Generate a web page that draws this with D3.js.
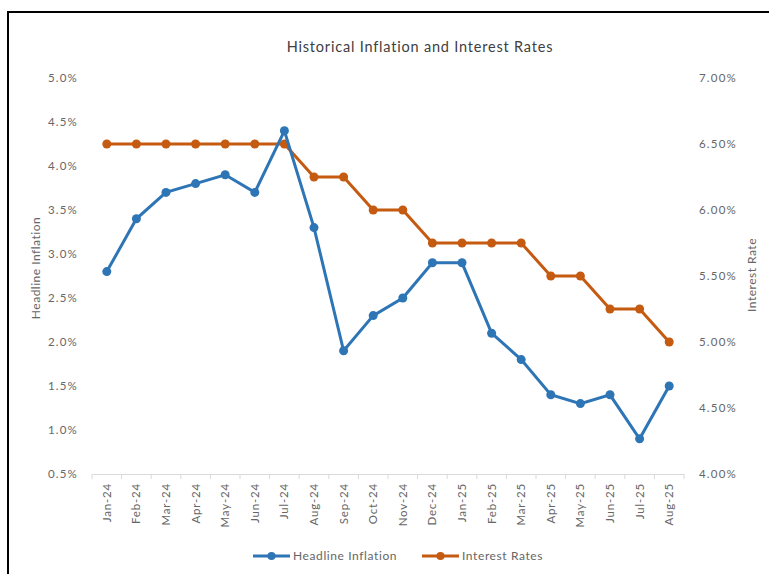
<!DOCTYPE html>
<html>
<head>
<meta charset="utf-8">
<script src="https://cdn.jsdelivr.net/npm/d3@7"></script>
<style>
  body { margin: 0; background: #fff; }
  svg text { font-family: Lato, "Open Sans", sans-serif; }
</style>
</head>
<body>
<svg id="chart"></svg>
<script>
// chart data
const months = ["Jan-24", "Feb-24", "Mar-24", "Apr-24", "May-24", "Jun-24", "Jul-24", "Aug-24", "Sep-24", "Oct-24",
    "Nov-24", "Dec-24", "Jan-25", "Feb-25", "Mar-25", "Apr-25", "May-25", "Jun-25", "Jul-25", "Aug-25"];
const inflation = [2.8, 3.4, 3.7, 3.8, 3.9, 3.7, 4.4, 3.3, 1.9, 2.3, 2.5, 2.9, 2.9, 2.1, 1.8, 1.4, 1.3, 1.4, 0.9, 1.5];
const interestRates = [6.5, 6.5, 6.5, 6.5, 6.5, 6.5, 6.5, 6.25, 6.25, 6.0, 6.0, 5.75, 5.75, 5.75, 5.75, 5.5, 5.5, 5.25, 5.25, 5.0];
const leftTicks = [0.5, 1.0, 1.5, 2.0, 2.5, 3.0, 3.5, 4.0, 4.5, 5.0];
const rightTicks = [4.0, 4.5, 5.0, 5.5, 6.0, 6.5, 7.0];

const width = 769, height = 574;
const margin = { top: 78, right: 85, bottom: 100, left: 92 };
const innerW = width - margin.left - margin.right;
const innerH = height - margin.top - margin.bottom;

const blue = "#2e75b6", orange = "#c55a11", textColor = "#666666";

const svg = d3.select("#chart")
    .attr("width", width)
    .attr("height", height);

// outer frame (only left and top edges show in the picture)
svg.append("path")
    .attr("d", `M8,${height} L8,12 L${width},12`)
    .attr("fill", "none")
    .attr("stroke", "#000")
    .attr("stroke-width", 2);

svg.append("text")
    .attr("x", 420)
    .attr("y", 52)
    .attr("text-anchor", "middle")
    .style("font-size", "14.5px")
    .style("letter-spacing", "0.8px")
    .attr("fill", "#404040")
    .text("Historical Inflation and Interest Rates");

const chart = svg.append("g")
    .attr("transform", `translate(${margin.left},${margin.top})`);

const xScale = d3.scaleBand().domain(months).range([0, innerW]);
const yLeft = d3.scaleLinear().domain([0.5, 5.0]).range([innerH, 0]);
const yRight = d3.scaleLinear().domain([4.0, 7.0]).range([innerH, 0]);

// x axis: line with ticks at the band edges
const xAxisG = chart.append("g")
    .attr("transform", `translate(0,${innerH})`)
    .call(d3.axisBottom(xScale).tickSize(0).tickPadding(8));
xAxisG.select(".domain").attr("stroke", "#d9d9d9");
xAxisG.selectAll("text")
    .attr("fill", textColor)
    .style("font-size", "11.5px")
    .style("letter-spacing", "0.8px")
    .attr("transform", "rotate(-90)")
    .attr("text-anchor", "end")
    .attr("x", -9)
    .attr("y", 0)
    .attr("dy", "0.35em");
xAxisG.selectAll(".band-tick")
    .data(d3.range(months.length + 1))
    .join("line")
    .attr("class", "band-tick")
    .attr("x1", i => i * xScale.step())
    .attr("x2", i => i * xScale.step())
    .attr("y1", 0)
    .attr("y2", 5)
    .attr("stroke", "#d9d9d9");

// left axis
const yLeftG = chart.append("g")
    .call(d3.axisLeft(yLeft).tickValues(leftTicks).tickSize(0).tickPadding(14)
        .tickFormat(d => d3.format(".1f")(d) + "%"));
yLeftG.select(".domain").remove();
yLeftG.selectAll("text").attr("fill", textColor).style("font-size", "11.5px").style("letter-spacing", "1.2px");

// right axis
const yRightG = chart.append("g")
    .attr("transform", `translate(${innerW},0)`)
    .call(d3.axisRight(yRight).tickValues(rightTicks).tickSize(0).tickPadding(15)
        .tickFormat(d => d3.format(".2f")(d) + "%"));
yRightG.select(".domain").remove();
yRightG.selectAll("text").attr("fill", textColor).style("font-size", "11.5px").style("letter-spacing", "1.2px");

// axis titles
svg.append("text")
    .attr("transform", `translate(40,268) rotate(-90)`)
    .attr("text-anchor", "middle")
    .attr("fill", textColor)
    .style("font-size", "12px")
    .style("letter-spacing", "0.5px")
    .text("Headline Inflation");

svg.append("text")
    .attr("transform", `translate(756,275) rotate(-90)`)
    .attr("text-anchor", "middle")
    .attr("fill", textColor)
    .style("font-size", "12px")
    .style("letter-spacing", "0.5px")
    .text("Interest  Rate");

const xPos = (d, i) => xScale(months[i]) + xScale.bandwidth() / 2;

// interest rates series
chart.append("path")
    .datum(interestRates)
    .attr("fill", "none")
    .attr("stroke", orange)
    .attr("stroke-width", 3)
    .attr("d", d3.line().x(xPos).y(d => yRight(d)));
chart.selectAll(".dot-rate")
    .data(interestRates)
    .join("circle")
    .attr("class", "dot-rate")
    .attr("cx", xPos)
    .attr("cy", d => yRight(d))
    .attr("r", 4.5)
    .attr("fill", orange);

// inflation series
chart.append("path")
    .datum(inflation)
    .attr("fill", "none")
    .attr("stroke", blue)
    .attr("stroke-width", 3)
    .attr("d", d3.line().x(xPos).y(d => yLeft(d)));
chart.selectAll(".dot-infl")
    .data(inflation)
    .join("circle")
    .attr("class", "dot-infl")
    .attr("cx", xPos)
    .attr("cy", d => yLeft(d))
    .attr("r", 4.5)
    .attr("fill", blue);

// legend
const legendItems = [
    { name: "Headline Inflation", color: blue, x: 253 },
    { name: "Interest Rates", color: orange, x: 422 }
];
const legend = svg.append("g").attr("transform", "translate(0,556)");
legendItems.forEach(item => {
    legend.append("line")
        .attr("x1", item.x).attr("x2", item.x + 37)
        .attr("y1", 0).attr("y2", 0)
        .attr("stroke", item.color)
        .attr("stroke-width", 3);
    legend.append("circle")
        .attr("cx", item.x + 18.5).attr("cy", 0).attr("r", 4)
        .attr("fill", item.color);
    legend.append("text")
        .attr("x", item.x + 40).attr("y", 0)
        .attr("dy", "0.35em")
        .attr("fill", textColor)
        .style("font-size", "12px")
        .style("letter-spacing", "0.6px")
        .text(item.name);
});
</script>
</body>
</html>
